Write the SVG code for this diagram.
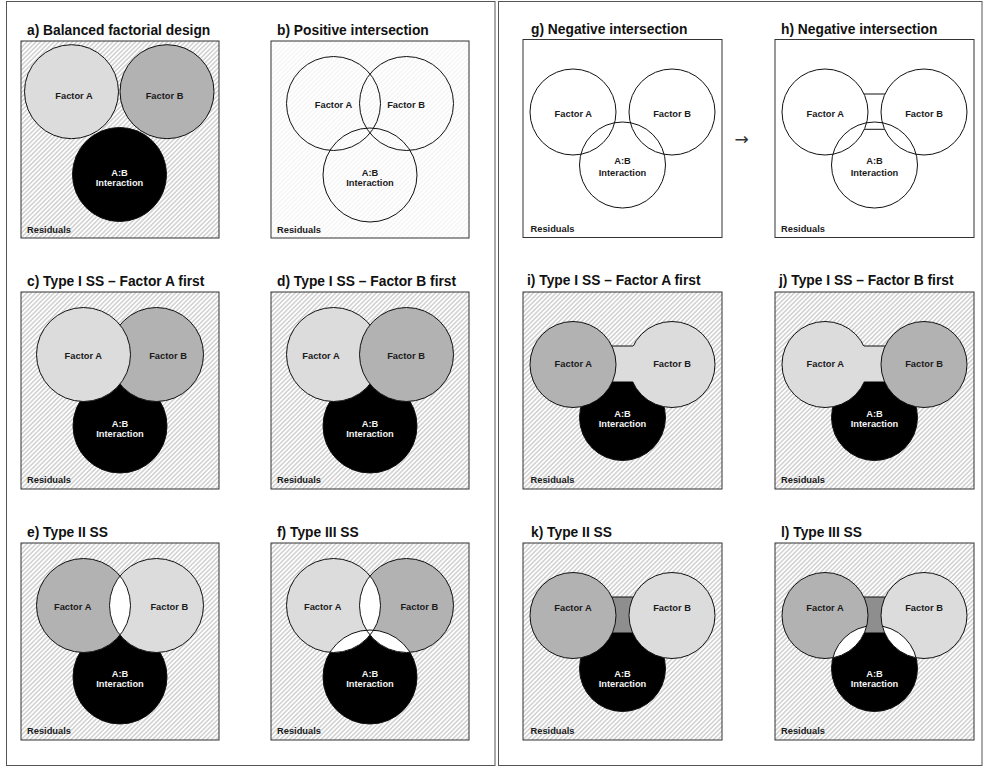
<svg xmlns="http://www.w3.org/2000/svg" width="985" height="767" viewBox="0 0 985 767">
<style>
.t{font-family:"Liberation Sans",Arial,sans-serif;font-weight:bold;font-size:13.8px;fill:#111}
.l{font-family:"Liberation Sans",Arial,sans-serif;font-weight:bold;font-size:9.3px;fill:#1a1a1a;text-anchor:middle}
.w{fill:#f4f4f4}
.res{font-family:"Liberation Sans",Arial,sans-serif;font-weight:bold;font-size:9.3px;fill:#1a1a1a}
.bx{stroke:#333;stroke-width:1}
.ck{stroke:#111;stroke-width:1}
.ln{stroke:#111;stroke-width:1;fill:none}
.fl{fill:#dcdcdc}.fm{fill:#b2b2b2}.fd{fill:#8e8e8e}.fk{fill:#000}.fw{fill:#fff}.fn{fill:none}
.frame{fill:none;stroke:#555;stroke-width:1}
</style>
<defs>
<pattern id="hatch" patternUnits="userSpaceOnUse" width="3.2" height="3.2" patternTransform="rotate(45)">
<rect width="3.2" height="3.2" fill="#fff"/><line x1="1.6" y1="0" x2="1.6" y2="3.2" stroke="#9a9a9a" stroke-width="0.7"/>
</pattern>
<pattern id="hatchf" patternUnits="userSpaceOnUse" width="3.2" height="3.2" patternTransform="rotate(45)">
<rect width="3.2" height="3.2" fill="#fff"/><line x1="1.6" y1="0" x2="1.6" y2="3.2" stroke="#eaeaea" stroke-width="0.7"/>
</pattern>
<clipPath id="cLB"><circle cx="135.5" cy="62.5" r="47"/></clipPath>
<clipPath id="cLAB"><circle cx="99" cy="134" r="47"/></clipPath>
<clipPath id="cRAB"><circle cx="99.5" cy="125.5" r="43"/></clipPath>
<clipPath id="cRAuB"><circle cx="50" cy="72.5" r="43"/><circle cx="149" cy="72.5" r="43"/></clipPath>
</defs>
<rect width="985" height="767" fill="#fff"/>
<rect class="frame" x="6.5" y="1.5" width="488.5" height="764"/>
<rect class="frame" x="498.5" y="1.5" width="483.5" height="764"/>

<g id="panel-a">
<text class="t" x="27" y="35">a) Balanced factorial design</text>
<g transform="translate(21,41)">
<rect class="bx" width="198" height="197" fill="url(#hatch)"/>
<circle class="ck fl" cx="50.5" cy="50.7" r="47"/>
<circle class="ck fm" cx="146" cy="50.7" r="47"/>
<circle class="ck fk" cx="98.5" cy="133.5" r="47"/>
<text class="l" x="53" y="57.5">Factor A</text>
<text class="l" x="143.5" y="57.5">Factor B</text>
<text class="l w" x="98.5" y="135">A:B</text>
<text class="l w" x="98.5" y="144.5">Interaction</text>
<text class="res" x="6" y="191.5">Residuals</text>
</g>
</g>

<g id="panel-b">
<text class="t" x="277" y="35">b) Positive intersection</text>
<g transform="translate(271,41)">
<rect class="bx" width="198" height="197" fill="url(#hatchf)"/>
<circle class="ck fn" cx="62.5" cy="62.5" r="47"/>
<circle class="ck fn" cx="135.5" cy="62.5" r="47"/>
<circle class="ck fn" cx="99" cy="134" r="47"/>
<text class="l" x="62.5" y="67">Factor A</text>
<text class="l" x="135" y="67">Factor B</text>
<text class="l" x="99" y="135">A:B</text>
<text class="l" x="99" y="144.5">Interaction</text>
<text class="res" x="6" y="191.5">Residuals</text>
</g>
</g>

<g id="panel-c">
<text class="t" x="27" y="286">c) Type I SS – Factor A first</text>
<g transform="translate(21,292)">
<rect class="bx" width="198" height="197" fill="url(#hatch)"/>
<circle class="ck fk" cx="99" cy="134" r="47"/>
<circle class="ck fm" cx="135.5" cy="62.5" r="47"/>
<circle class="ck fl" cx="62.5" cy="62.5" r="47"/>
<text class="l" x="62.3" y="67">Factor A</text>
<text class="l" x="147" y="67">Factor B</text>
<text class="l w" x="99" y="134.7">A:B</text>
<text class="l w" x="99" y="144.7">Interaction</text>
<text class="res" x="6" y="191">Residuals</text>
</g>
</g>

<g id="panel-d">
<text class="t" x="277" y="286">d) Type I SS – Factor B first</text>
<g transform="translate(271,292)">
<rect class="bx" width="198" height="197" fill="url(#hatch)"/>
<circle class="ck fk" cx="99" cy="134" r="47"/>
<circle class="ck fl" cx="62.5" cy="62.5" r="47"/>
<circle class="ck fm" cx="135.5" cy="62.5" r="47"/>
<text class="l" x="50" y="67">Factor A</text>
<text class="l" x="135" y="67">Factor B</text>
<text class="l w" x="99" y="134.7">A:B</text>
<text class="l w" x="99" y="144.7">Interaction</text>
<text class="res" x="6" y="191">Residuals</text>
</g>
</g>

<g id="panel-e">
<text class="t" x="27" y="537">e) Type II SS</text>
<g transform="translate(21,543)">
<rect class="bx" width="198" height="197" fill="url(#hatch)"/>
<circle class="ck fk" cx="99" cy="134" r="47"/>
<circle class="fm" cx="62.5" cy="62.5" r="47"/>
<circle class="fl" cx="135.5" cy="62.5" r="47"/>
<circle class="fw" cx="62.5" cy="62.5" r="47" clip-path="url(#cLB)"/>
<circle class="ln" cx="62.5" cy="62.5" r="47"/>
<circle class="ln" cx="135.5" cy="62.5" r="47"/>
<text class="l" x="51.7" y="67">Factor A</text>
<text class="l" x="148.3" y="67">Factor B</text>
<text class="l w" x="99" y="133.5">A:B</text>
<text class="l w" x="99" y="143.5">Interaction</text>
<text class="res" x="6" y="191">Residuals</text>
</g>
</g>

<g id="panel-f">
<text class="t" x="277" y="537">f) Type III SS</text>
<g transform="translate(271,543)">
<rect class="bx" width="198" height="197" fill="url(#hatch)"/>
<circle class="fk" cx="99" cy="134" r="47"/>
<circle class="fl" cx="62.5" cy="62.5" r="47"/>
<circle class="fm" cx="135.5" cy="62.5" r="47"/>
<circle class="fw" cx="62.5" cy="62.5" r="47" clip-path="url(#cLB)"/>
<g clip-path="url(#cLAB)">
<circle class="fw" cx="62.5" cy="62.5" r="47"/>
<circle class="fw" cx="135.5" cy="62.5" r="47"/>
</g>
<circle class="ln" cx="99" cy="134" r="47"/>
<circle class="ln" cx="62.5" cy="62.5" r="47"/>
<circle class="ln" cx="135.5" cy="62.5" r="47"/>
<text class="l" x="51.7" y="67">Factor A</text>
<text class="l" x="148.3" y="67">Factor B</text>
<text class="l w" x="99" y="133.5">A:B</text>
<text class="l w" x="99" y="143.5">Interaction</text>
<text class="res" x="6" y="191">Residuals</text>
</g>
</g>

<g id="panel-g">
<text class="t" x="531" y="34">g) Negative intersection</text>
<g transform="translate(523,39.5)">
<rect class="bx" width="199" height="198" fill="#fff"/>
<circle class="ln" cx="50" cy="72.5" r="43"/>
<circle class="ln" cx="149" cy="72.5" r="43"/>
<circle class="ln" cx="99.5" cy="125.5" r="43"/>
<text class="l" x="50.3" y="77.5">Factor A</text>
<text class="l" x="149" y="77.5">Factor B</text>
<text class="l" x="99.5" y="124">A:B</text>
<text class="l" x="99.5" y="136.5">Interaction</text>
<text class="res" x="7.5" y="192.5">Residuals</text>
</g>
</g>

<g id="connectors">
<text x="741.5" y="144.5" font-family="DejaVu Sans, sans-serif" font-size="17" fill="#333" text-anchor="middle">→</text>
</g>

<g id="panel-h">
<text class="t" x="781" y="34">h) Negative intersection</text>
<g transform="translate(775,39.5)">
<rect class="bx" width="199" height="198" fill="#fff"/>
<path class="ln" d="M60 54.5H140M60 89.8H140"/>
<circle class="fw" cx="50" cy="72.5" r="43"/>
<circle class="fw" cx="149" cy="72.5" r="43"/>
<circle class="ln" cx="50" cy="72.5" r="43"/>
<circle class="ln" cx="149" cy="72.5" r="43"/>
<circle class="ln" cx="99.5" cy="125.5" r="43"/>
<text class="l" x="50.3" y="77.5">Factor A</text>
<text class="l" x="149" y="77.5">Factor B</text>
<text class="l" x="99.5" y="124">A:B</text>
<text class="l" x="99.5" y="136.5">Interaction</text>
<text class="res" x="6" y="192.5">Residuals</text>
</g>
</g>

<g id="panel-i">
<text class="t" x="527" y="285">i) Type I SS – Factor A first</text>
<g transform="translate(523,292)">
<rect class="bx" width="199" height="197" fill="url(#hatch)"/>
<circle class="ck fk" cx="99.5" cy="125.5" r="43"/>
<circle class="ck fl" cx="149" cy="72.5" r="43"/>
<rect class="fl" x="60" y="54" width="55" height="35.5"/>
<path class="ln" d="M60 54H110"/>
<circle class="ck fm" cx="50" cy="72.5" r="43"/>
<text class="l" x="50.3" y="75.3">Factor A</text>
<text class="l" x="149" y="75.3">Factor B</text>
<text class="l w" x="99.5" y="124.7">A:B</text>
<text class="l w" x="99.5" y="134.7">Interaction</text>
<text class="res" x="7.5" y="191">Residuals</text>
</g>
</g>

<g id="panel-j">
<text class="t" x="779" y="285">j) Type I SS – Factor B first</text>
<g transform="translate(775,292)">
<rect class="bx" width="199" height="197" fill="url(#hatch)"/>
<circle class="ck fk" cx="99.5" cy="125.5" r="43"/>
<circle class="ck fl" cx="50" cy="72.5" r="43"/>
<rect class="fl" x="85" y="54" width="55" height="35.5"/>
<path class="ln" d="M89 54H140"/>
<circle class="ck fm" cx="149" cy="72.5" r="43"/>
<text class="l" x="50.3" y="75.3">Factor A</text>
<text class="l" x="149" y="75.3">Factor B</text>
<text class="l w" x="99.5" y="124.7">A:B</text>
<text class="l w" x="99.5" y="134.7">Interaction</text>
<text class="res" x="6" y="191">Residuals</text>
</g>
</g>

<g id="panel-k">
<text class="t" x="531" y="537">k) Type II SS</text>
<g transform="translate(523,543)">
<rect class="bx" width="199" height="197" fill="url(#hatch)"/>
<circle class="ck fk" cx="99.5" cy="125.5" r="43"/>
<rect class="fd" x="60" y="54" width="80" height="35.5"/>
<path class="ln" d="M60 54H140"/>
<circle class="ck fm" cx="50" cy="72.5" r="43"/>
<circle class="ck fl" cx="149" cy="72.5" r="43"/>
<text class="l" x="50" y="67.7">Factor A</text>
<text class="l" x="149" y="67.7">Factor B</text>
<text class="l w" x="99.5" y="133.7">A:B</text>
<text class="l w" x="99.5" y="144">Interaction</text>
<text class="res" x="7.5" y="190.5">Residuals</text>
</g>
</g>

<g id="panel-l">
<text class="t" x="781" y="537">l) Type III SS</text>
<g transform="translate(775,543)">
<rect class="bx" width="199" height="197" fill="url(#hatch)"/>
<circle class="ck fk" cx="99.5" cy="125.5" r="43"/>
<rect class="fd" x="60" y="54" width="80" height="35.5"/>
<path class="ln" d="M60 54H140"/>
<circle class="fm" cx="50" cy="72.5" r="43"/>
<circle class="fl" cx="149" cy="72.5" r="43"/>
<g clip-path="url(#cRAB)">
<circle class="fw" cx="50" cy="72.5" r="43"/>
<circle class="fw" cx="149" cy="72.5" r="43"/>
</g>
<circle class="ln" cx="50" cy="72.5" r="43"/>
<circle class="ln" cx="149" cy="72.5" r="43"/>
<circle class="ln" cx="99.5" cy="125.5" r="43" clip-path="url(#cRAuB)"/>
<text class="l" x="50" y="67.7">Factor A</text>
<text class="l" x="149" y="67.7">Factor B</text>
<text class="l w" x="99.5" y="133.7">A:B</text>
<text class="l w" x="99.5" y="144">Interaction</text>
<text class="res" x="6" y="190.5">Residuals</text>
</g>
</g>
</svg>
